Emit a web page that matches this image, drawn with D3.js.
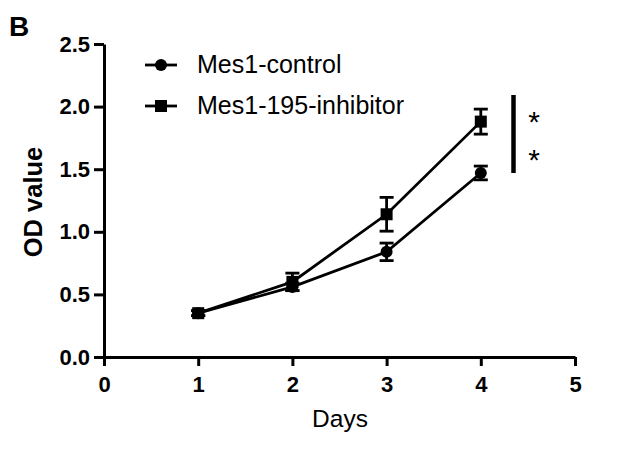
<!DOCTYPE html>
<html><head><meta charset="utf-8">
<script src="https://cdn.jsdelivr.net/npm/d3@7"></script>
<style>body{margin:0;background:#fff;} text{font-family:Arial,"Liberation Sans",sans-serif;}</style>
</head><body><svg id="c" width="630" height="458"></svg>
<script>
const days = [1, 2, 3, 4];
const controlMean = [0.35, 0.56, 0.84, 1.47];
const controlErr = [0.02, 0.03, 0.07, 0.055];
const inhibitorMean = [0.35, 0.60, 1.14, 1.88];
const inhibitorErr = [0.02, 0.07, 0.135, 0.10];
const xTicks = [0, 1, 2, 3, 4, 5];
const yTicks = [0, 0.5, 1.0, 1.5, 2.0, 2.5];
const seriesNames = ["Mes1-control", "Mes1-195-inhibitor"];

const svg = d3.select("#c");
const x = d3.scaleLinear().domain([0, 5]).range([104, 575]);
const y = d3.scaleLinear().domain([0, 2.5]).range([357, 44]);

svg.append("text").attr("x", 9).attr("y", 36).attr("font-size", 28).attr("font-weight", "bold").text("B");

const xa = svg.append("g").attr("transform", "translate(0,357)")
  .call(d3.axisBottom(x).tickValues(xTicks).tickFormat(d3.format("d")).tickSize(9).tickSizeOuter(0));
const ya = svg.append("g").attr("transform", "translate(104,0)")
  .call(d3.axisLeft(y).tickValues(yTicks).tickFormat(d3.format(".1f")).tickSize(10).tickSizeOuter(0));
[xa, ya].forEach(a => {
  a.select(".domain").attr("stroke", "#000").attr("stroke-width", 3);
  a.selectAll(".tick line").attr("stroke", "#000").attr("stroke-width", 3);
  a.selectAll(".tick text").attr("font-size", 22).attr("font-weight", "bold").attr("fill", "#000")
   .attr("font-family", "Arial, 'Liberation Sans', sans-serif");
});
xa.selectAll(".tick text").attr("dy", "0").attr("y", 35);
ya.selectAll(".tick text").attr("x", -14);

svg.append("text").attr("x", 340).attr("y", 427).attr("text-anchor", "middle").attr("font-size", 24.5).text("Days");
svg.append("text").attr("transform", "translate(42,202) rotate(-90)").attr("text-anchor", "middle")
  .attr("font-size", 25.5).attr("font-weight", "bold").text("OD value");

const line = d3.line().x((d, i) => x(days[i])).y(d => y(d));
function drawSeries(mean, err, shape) {
  svg.append("path").datum(mean).attr("d", line).attr("fill", "none").attr("stroke", "#000").attr("stroke-width", 2.8);
  const g = svg.append("g");
  mean.forEach((m, i) => {
    const cx = x(days[i]);
    const top = y(m + err[i]), bot = y(m - err[i]);
    g.append("line").attr("x1", cx).attr("x2", cx).attr("y1", top).attr("y2", bot).attr("stroke", "#000").attr("stroke-width", 2.8);
    [top, bot].forEach(yy => g.append("line").attr("x1", cx - 7).attr("x2", cx + 7).attr("y1", yy).attr("y2", yy).attr("stroke", "#000").attr("stroke-width", 2.8));
    if (shape === "circle") g.append("circle").attr("cx", cx).attr("cy", y(m)).attr("r", 6).attr("fill", "#000");
    else g.append("rect").attr("x", cx - 6).attr("y", y(m) - 6).attr("width", 12).attr("height", 12).attr("fill", "#000");
  });
}
drawSeries(controlMean, controlErr, "circle");
drawSeries(inhibitorMean, inhibitorErr, "square");

// legend
const leg = svg.append("g");
seriesNames.forEach((n, i) => {
  const ly = 65 + i * 41;
  leg.append("line").attr("x1", 145).attr("x2", 177).attr("y1", ly).attr("y2", ly).attr("stroke", "#000").attr("stroke-width", 2.8);
  if (i === 0) leg.append("circle").attr("cx", 161).attr("cy", ly).attr("r", 6).attr("fill", "#000");
  else leg.append("rect").attr("x", 155).attr("y", ly - 6).attr("width", 12).attr("height", 12).attr("fill", "#000");
  leg.append("text").attr("x", 197).attr("y", ly + 8).attr("font-size", 25).text(n);
});

// significance
svg.append("line").attr("x1", 513.5).attr("x2", 513.5).attr("y1", 95).attr("y2", 173).attr("stroke", "#000").attr("stroke-width", 4.5);
[132, 170].forEach(sy => svg.append("text").attr("x", 534).attr("y", sy).attr("text-anchor", "middle").attr("font-size", 30).text("*"));
</script></body></html>
